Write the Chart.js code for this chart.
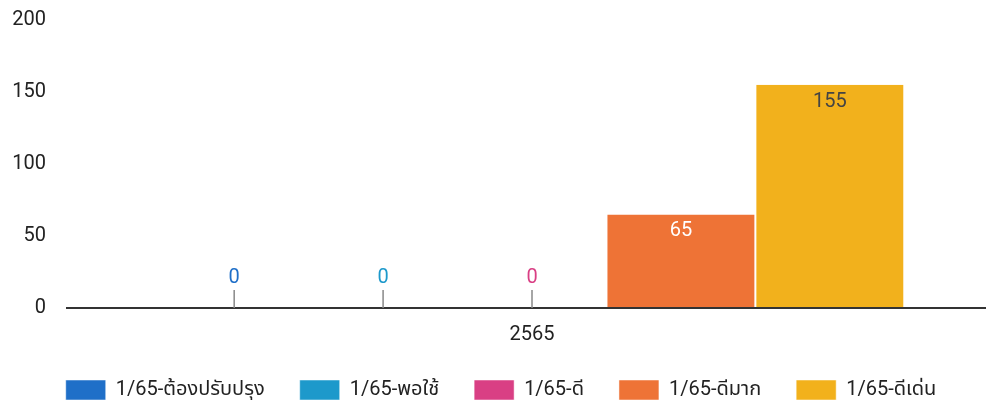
<!DOCTYPE html>
<html>
<head>
<meta charset="utf-8">
<script src="https://cdn.jsdelivr.net/npm/chart.js@4"></script>
<style>
  body { margin: 0; background: #fff; }
  #wrap { width: 986px; height: 410px; }
</style>
</head>
<body>
<div id="wrap"><canvas id="grafico"></canvas></div>
<script>
const categorias = ['2565'];
const series = ['1/65-ต้องปรับปรุง', '1/65-พอใช้', '1/65-ดี', '1/65-ดีมาก', '1/65-ดีเด่น'];
const valores = [[0], [0], [0], [65], [155]];
const colores = ['#1F6FC8', '#1D99CB', '#D93F84', '#EE7336', '#F2B11C'];
const coloresEtiqueta = ['#1F6FC8', '#1D99CB', '#D93F84', '#ffffff', '#444444'];
const ticksY = [0, 50, 100, 150, 200];

const fuente = "Roboto, 'Noto Sans Thai', 'Noto Sans', sans-serif";

// etiquetas de valor y palitos para los ceros
const etiquetas = {
    id: 'etiquetas',
    afterLayout(chart) {
        // la leyenda va un poco corrida a la derecha
        chart.legend.left += 16;
    },
    afterDatasetsDraw(chart) {
        const ctx = chart.ctx;
        const y0 = chart.scales.y.getPixelForValue(0);
        ctx.save();
        // linea base
        ctx.strokeStyle = '#333';
        ctx.lineWidth = 2;
        ctx.beginPath();
        ctx.moveTo(66, y0);
        ctx.lineTo(chart.chartArea.right, y0);
        ctx.stroke();

        ctx.font = '20px ' + fuente;
        ctx.textAlign = 'center';
        ctx.textBaseline = 'alphabetic';
        chart.data.datasets.forEach((ds, i) => {
            const meta = chart.getDatasetMeta(i);
            meta.data.forEach((bar, j) => {
                const v = ds.data[j];
                ctx.fillStyle = coloresEtiqueta[i];
                if (v === 0) {
                    ctx.strokeStyle = '#888';
                    ctx.lineWidth = 1.5;
                    ctx.beginPath();
                    ctx.moveTo(bar.x, y0);
                    ctx.lineTo(bar.x, y0 - 18);
                    ctx.stroke();
                    ctx.fillText(String(v), bar.x, y0 - 25);
                } else {
                    ctx.fillText(String(v), bar.x, bar.y + 22);
                }
            });
        });
        ctx.restore();
    }
};

new Chart(document.getElementById('grafico'), {
    type: 'bar',
    data: {
        labels: categorias,
        datasets: series.map((s, i) => ({
            label: s,
            data: valores[i],
            backgroundColor: colores[i],
            borderColor: '#ffffff',
            borderWidth: { left: 1, right: 1 },
            categoryPercentage: 0.82,
            barPercentage: 1.0
        }))
    },
    options: {
        responsive: true,
        maintainAspectRatio: false,
        animation: false,
        layout: { padding: { top: 20, right: 0, left: 0, bottom: 0 } },
        scales: {
            x: {
                grid: { display: false },
                border: { display: false },
                ticks: { color: '#222', font: { size: 20, family: fuente }, padding: 7 },
                afterFit: (axis) => { axis.height -= 9; }
            },
            y: {
                min: 0,
                max: 200,
                afterBuildTicks: (axis) => { axis.ticks = ticksY.map(v => ({ value: v })); },
                afterFit: (axis) => {
                    axis.width = 78;
                    axis.paddingTop = 0;
                    axis.paddingBottom = 0;
                },
                grid: { display: false },
                border: { display: false },
                ticks: { color: '#222', font: { size: 20, family: fuente }, padding: 24 }
            }
        },
        plugins: {
            tooltip: { enabled: false },
            legend: {
                position: 'bottom',
                labels: {
                    boxWidth: 40,
                    boxHeight: 20,
                    padding: 35,
                    color: '#222',
                    font: { size: 20, family: fuente }
                }
            }
        }
    },
    plugins: [etiquetas]
});
</script>
</body>
</html>
